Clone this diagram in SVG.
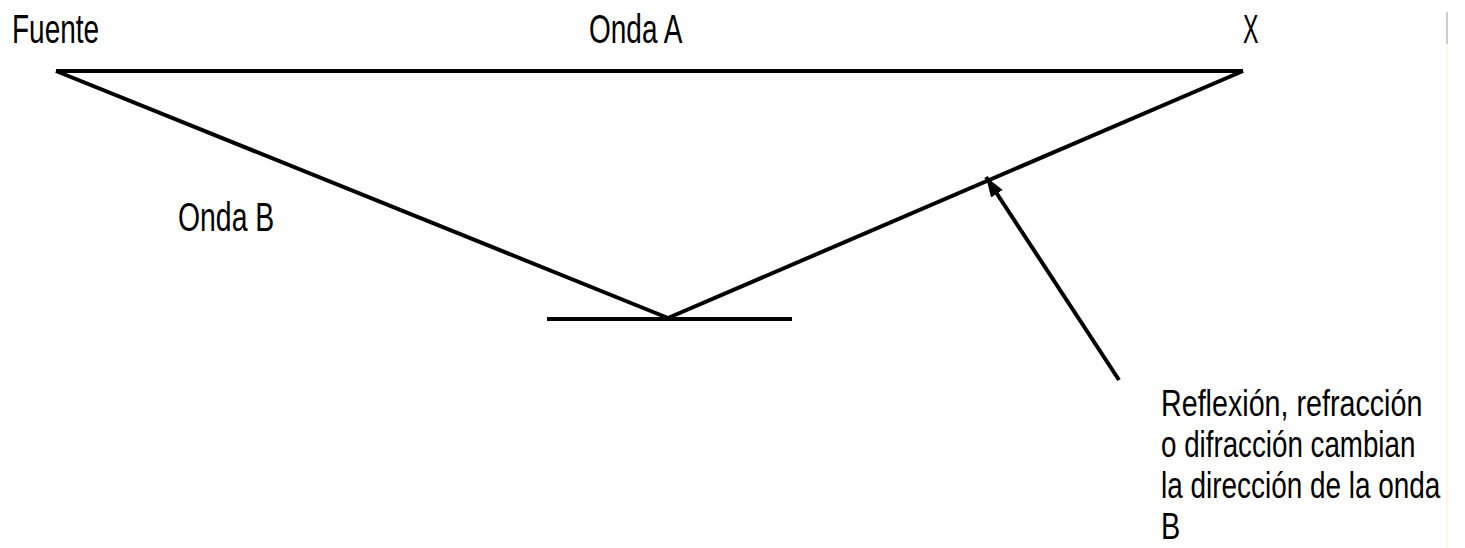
<svg xmlns="http://www.w3.org/2000/svg" width="1465" height="548" viewBox="0 0 1465 548">
<style>
.t{font-family:"Liberation Sans",Arial,sans-serif;font-size:40px;fill:#000}
.n{font-family:"Liberation Sans",Arial,sans-serif;font-size:37px;fill:#000}
.ln{stroke:#000;stroke-width:4;fill:none;stroke-linecap:butt}
</style>
<defs>
<marker id="ah" markerWidth="20" markerHeight="14" refX="20" refY="7" orient="auto" markerUnits="userSpaceOnUse">
<path d="M0,0 L20,7 L0,14 Z" fill="#000"/>
</marker>
</defs>
<rect width="1465" height="548" fill="#fff"/>
<line x1="1447" y1="12" x2="1447" y2="44" stroke="#bdbdbd" stroke-width="1.5"/>
<line x1="1447" y1="44" x2="1447" y2="548" stroke="#fbf5d6" stroke-width="1.5"/>
<g id="connectors">
<line class="ln" x1="56" y1="71" x2="1243" y2="71"/>
<line class="ln" x1="56" y1="71" x2="668" y2="318"/>
<line class="ln" x1="668" y1="318" x2="1243" y2="71"/>
<line class="ln" x1="1119" y1="380" x2="986" y2="177" stroke-width="3.5" marker-end="url(#ah)"/>
</g>
<g id="reflector">
<line class="ln" x1="547" y1="319" x2="792" y2="319"/>
</g>
<g id="fuente"><text class="t" transform="translate(12,43) scale(0.7,1)">Fuente</text></g>
<g id="ondaA"><text class="t" transform="translate(589,43) scale(0.7,1)">Onda A</text></g>
<g id="x"><text class="t" transform="translate(1243,43) scale(0.58,1)">X</text></g>
<g id="ondaB"><text class="t" transform="translate(178,231) scale(0.71,1)">Onda B</text></g>
<g id="note">
<text class="n" transform="translate(1161,416) scale(0.775,1)">Reflexión, refracción</text>
<text class="n" transform="translate(1161,457) scale(0.75,1)">o difracción cambian</text>
<text class="n" transform="translate(1161,498) scale(0.755,1)">la dirección de la onda</text>
<text class="n" transform="translate(1161,539) scale(0.78,1)">B</text>
</g>
</svg>
